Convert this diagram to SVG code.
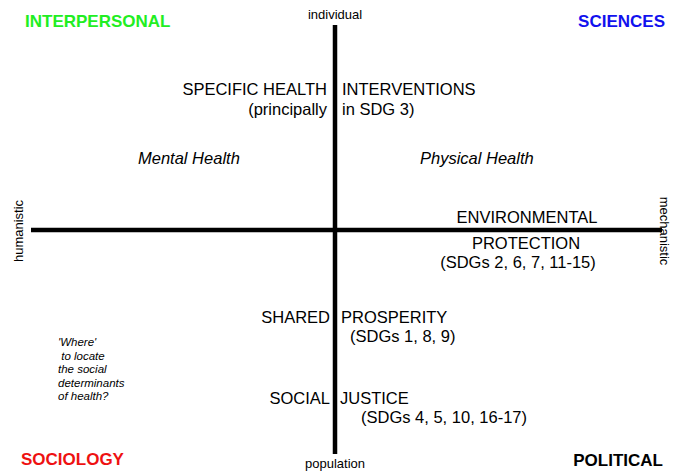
<svg xmlns="http://www.w3.org/2000/svg" width="676" height="472" viewBox="0 0 676 472">
<style>
text{font-family:"Liberation Sans",Arial,sans-serif;fill:#000}
.corner{font-size:17px;font-weight:bold}
.lab{font-size:16.5px}
.axis{font-size:13px}
.it{font-style:italic;font-size:16.5px}
.note{font-style:italic;font-size:11.5px}
.ax{stroke:#000;stroke-width:4.5}
</style>
<rect width="676" height="472" fill="#fff"/>
<g id="connectors">
<line class="ax" x1="335" y1="25" x2="335" y2="454"/>
<line class="ax" x1="31" y1="230" x2="662" y2="230"/>
</g>
<g id="interpersonal"><text class="corner" x="25" y="27" style="fill:#22ee22">INTERPERSONAL</text></g>
<g id="sciences"><text class="corner" x="665" y="27" text-anchor="end" style="fill:#1111ee">SCIENCES</text></g>
<g id="sociology"><text class="corner" x="21" y="465" style="fill:#ee1111">SOCIOLOGY</text></g>
<g id="political"><text class="corner" x="663" y="466" text-anchor="end">POLITICAL</text></g>
<g id="individual"><text class="axis" x="335" y="19" text-anchor="middle">individual</text></g>
<g id="population"><text class="axis" x="335" y="468" text-anchor="middle">population</text></g>
<g id="humanistic"><text class="axis" transform="translate(23,231) rotate(-90)" text-anchor="middle">humanistic</text></g>
<g id="mechanistic"><text class="axis" transform="translate(660,231) rotate(90)" text-anchor="middle">mechanistic</text></g>
<g id="specific-health">
<text class="lab" x="327" y="95" text-anchor="end">SPECIFIC HEALTH</text>
<text class="lab" x="342" y="95">INTERVENTIONS</text>
<text class="lab" x="327" y="115" text-anchor="end">(principally</text>
<text class="lab" x="342" y="115">in SDG 3)</text>
</g>
<g id="mental-health"><text class="it" x="138" y="164">Mental Health</text></g>
<g id="physical-health"><text class="it" x="420" y="164">Physical Health</text></g>
<g id="environmental">
<text class="lab" x="527" y="223" text-anchor="middle">ENVIRONMENTAL</text>
<text class="lab" x="526" y="249" text-anchor="middle">PROTECTION</text>
<text class="lab" x="518" y="268" text-anchor="middle">(SDGs 2, 6, 7, 11-15)</text>
</g>
<g id="shared-prosperity">
<text class="lab" x="330" y="323" text-anchor="end">SHARED</text>
<text class="lab" x="341" y="323">PROSPERITY</text>
<text class="lab" x="350" y="342">(SDGs 1, 8, 9)</text>
</g>
<g id="social-justice">
<text class="lab" x="330" y="404" text-anchor="end">SOCIAL</text>
<text class="lab" x="340" y="404">JUSTICE</text>
<text class="lab" x="361" y="423">(SDGs 4, 5, 10, 16-17)</text>
</g>
<g id="note">
<text class="note" x="58" y="346">'Where'</text>
<text class="note" x="58" y="359.5" xml:space="preserve"> to locate</text>
<text class="note" x="58" y="373">the social</text>
<text class="note" x="58" y="386.5">determinants</text>
<text class="note" x="58" y="400">of health?</text>
</g>
</svg>
